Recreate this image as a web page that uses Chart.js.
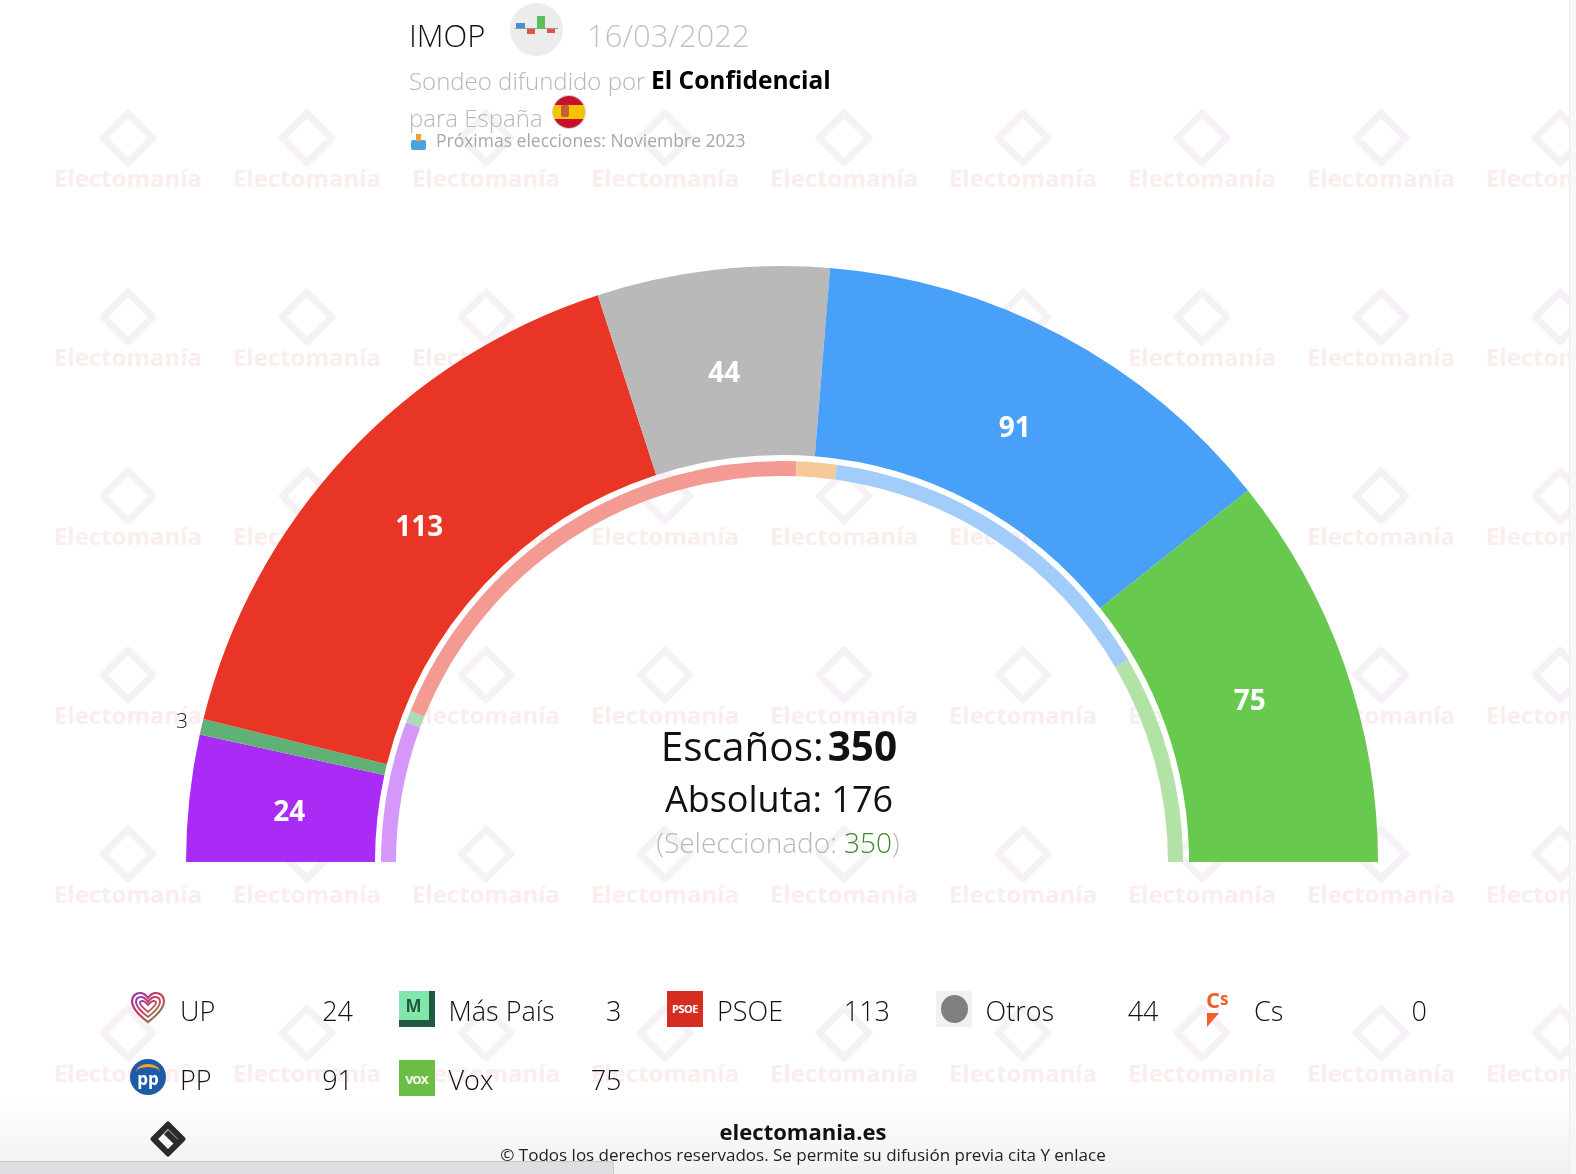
<!DOCTYPE html>
<html lang="es">
<head>
<meta charset="utf-8">
<title>IMOP 16/03/2022 - Electomanía</title>
<script src="https://cdn.jsdelivr.net/npm/chart.js@4/dist/chart.umd.min.js"></script>
<style>
  html, body { margin: 0; padding: 0; background: #fff; }
  body { width: 1576px; height: 1174px; position: relative; overflow: hidden; font-family: "Open Sans", sans-serif; }
  #bottomShade { position: absolute; left: 0; top: 1095px; width: 1576px; height: 79px;
    background: linear-gradient(#ffffff, #f1f1f1); z-index: 0; }
  #wm { position: absolute; left: 0; top: 0; width: 1576px; height: 1174px; z-index: 0; }
  .wmText { position: absolute; font-weight: 700; font-size: 24px; line-height: 1; white-space: nowrap;
    color: #faeeed; transform: translateX(-50%); }
  .wmLogo { position: absolute; width: 28px; height: 28px; border: 7px solid #f6f1f6;
    transform: translate(-50%, -50%) rotate(45deg); border-radius: 3px; }
  #chart { position: absolute; left: 0; top: 0; z-index: 1; }
  .t { position: absolute; line-height: 1; white-space: nowrap; z-index: 2; }
  .icon { position: absolute; z-index: 2; }
  #rightStrip { position: absolute; left: 1569px; top: 0; width: 7px; height: 1174px; background: #f7f7f7;
    border-left: 1px solid #ececec; z-index: 3; }
  #bottomBar { position: absolute; left: 0; top: 1161px; width: 613px; height: 13px; background: #dedfe2;
    border-top: 1px solid #c9c9cc; border-right: 1px solid #c9c9cc; border-top-right-radius: 4px; z-index: 3; }
</style>
</head>
<body>
<div id="bottomShade"></div>
<div id="wm"></div>
<canvas id="chart" width="1576" height="1174"></canvas>
<div id="rightStrip"></div>
<div id="bottomBar"></div>

<script>
// seats in the poll (outer ring), in chart order
const parties = ["UP", "Más País", "PSOE", "Otros", "Cs", "PP", "Vox"];
const seats = [24, 3, 113, 44, 0, 91, 75];
// previous result shown as thin inner ring (Otros not drawn)
const prevSeats = [35, 3, 120, 0, 10, 89, 52];

const colors = ["#a92bf5", "#5fb176", "#e83525", "#b9b9b9", "#f28c3c", "#48a0f8", "#67c94d"];
const lightColors = ["#d597f9", "#acd9b8", "#f39a93", "#dcdcdc", "#f7c998", "#a2cdfa", "#b3e2a6"];

const totalSeats = 350;
const majority = 176;
const selected = 350;

// helper to put text with its baseline at a given y
function txt(html, x, base, size, css, align) {
  const d = document.createElement("div");
  d.className = "t";
  d.innerHTML = html;
  d.style.left = x + "px";
  d.style.top = (base - 0.888 * size) + "px";
  d.style.fontSize = size + "px";
  if (css) d.style.cssText += css;
  if (align === "center") d.style.transform = "translateX(-50%)";
  if (align === "right") d.style.transform = "translateX(-100%)";
  document.body.appendChild(d);
  return d;
}
function box(x, y, w, h, css, html) {
  const d = document.createElement("div");
  d.className = "icon";
  d.style.left = x + "px"; d.style.top = y + "px";
  d.style.width = w + "px"; d.style.height = h + "px";
  d.style.cssText += css || "";
  if (html) d.innerHTML = html;
  document.body.appendChild(d);
  return d;
}

// watermark tiles
const wm = document.getElementById("wm");
for (let r = -1; r < 6; r++) {
  for (let c = 0; c < 9; c++) {
    const cx = 128 + c * 179;
    const base = 366 + r * 179;
    const t = document.createElement("div");
    t.className = "wmText";
    t.textContent = "Electomanía";
    t.style.left = cx + "px";
    t.style.top = (base - 21) + "px";
    wm.appendChild(t);
    const l = document.createElement("div");
    l.className = "wmLogo";
    l.style.left = cx + "px";
    l.style.top = (base - 49) + "px";
    wm.appendChild(l);
  }
}

// header
txt("IMOP", 409, 48, 31, "font-weight:300;color:#111;");
box(510, 3, 53, 53, "border-radius:50%;background:#ececec;");
box(516, 23, 9, 5, "background:#4a8fd6;");
box(515, 28, 43, 1, "background:#9a9a9a;");
box(527, 29, 8, 5, "background:#e0553f;");
box(537, 16, 8, 13, "background:#5cbf5c;");
box(547, 29, 8, 4, "background:#e0553f;");
txt("16/03/2022", 587, 48, 31, "font-weight:300;color:#c2c2c2;");
txt("Sondeo difundido por", 409, 90, 24, "font-weight:300;color:#b8b8b8;");
txt("El Confidencial", 651, 90, 24.5, "font-weight:700;color:#000;");
txt("para España", 409, 127, 24, "font-weight:300;color:#b8b8b8;");
box(553, 96, 32, 32, "border-radius:50%;background:linear-gradient(#c8102e 0 27%, #f5c400 27% 73%, #c8102e 73%);box-shadow:0 0 0 1px #cfcfcf;");
box(561, 105, 8, 12, "background:#b5483a;border-radius:2px;opacity:.8;");
box(411, 140, 15, 10, "background:#4aa3df;border-radius:2px;");
box(416, 134, 5, 7, "background:#f0a030;");
txt("Próximas elecciones: Noviembre 2023", 436, 148, 17.5, "color:#a8a8a8;");

// centre texts
txt("Escaños:&#8202;<b style='font-weight:700'>" + totalSeats + "</b>", 779, 762, 40.5, "color:#111;", "center");
txt("Absoluta: " + majority, 779, 813, 36, "color:#111;", "center");
txt("(Seleccionado: <span style='color:#3b8a26'>" + selected + "</span>)", 778, 853, 28, "font-weight:300;color:#b9b9b9;", "center");

// legend icons
function legendIcon(i, x, y) {
  if (i === 0) {
    box(x, y, 36, 34, "", "<svg width='36' height='34' viewBox='0 0 36 34'><defs><linearGradient id='hg' x1='0' y1='0' x2='1' y2='1'><stop offset='0' stop-color='#8a3bb0'/><stop offset='.5' stop-color='#d6365b'/><stop offset='1' stop-color='#6aa84f'/></linearGradient></defs>" +
      "<path d='M18 31 C6 22 2 16 2 10 C2 5 6 2 10 2 C14 2 16 4 18 7 C20 4 22 2 26 2 C30 2 34 5 34 10 C34 16 30 22 18 31Z' fill='none' stroke='url(#hg)' stroke-width='2.2'/>" +
      "<path d='M18 26 C9 19 6 15 6 11 C6 8 8 6 11 6 C14 6 16 8 18 11 C20 8 22 6 25 6 C28 6 30 8 30 11 C30 15 27 19 18 26Z' fill='none' stroke='url(#hg)' stroke-width='2'/>" +
      "<path d='M18 21 C12 16 10 14 10 12 C10 10.5 11 10 12.5 10 C15 10 16 12 18 14 C20 12 21 10 23.5 10 C25 10 26 10.5 26 12 C26 14 24 16 18 21Z' fill='none' stroke='url(#hg)' stroke-width='1.8'/></svg>");
  } else if (i === 1) {
    box(x, y, 36, 36, "background:#1f5a3e;");
    box(x, y, 30, 29, "background:#82e5ab;font:700 17px 'Open Sans',sans-serif;color:#1f5a3e;text-align:center;line-height:29px;", "M");
  } else if (i === 2) {
    box(x, y, 36, 36, "background:#d62d23;color:#fff;font:700 11px 'Open Sans',sans-serif;text-align:center;line-height:36px;letter-spacing:-0.5px;", "PSOE");
  } else if (i === 3) {
    box(x, y, 36, 36, "background:#f1f1f1;");
    box(x + 5, y + 4, 27, 28, "background:#808080;border-radius:50%;");
  } else if (i === 4) {
    box(x + 2, y - 5, 36, 26, "color:#ef5f2c;font:700 22px 'Open Sans',sans-serif;line-height:26px;", "C<span style='font-size:17px;vertical-align:top'>s</span>");
    box(x + 3, y + 22, 0, 0, "border-left:12px solid #ef5f2c;border-bottom:14px solid transparent;");
  } else if (i === 5) {
    box(x, y - 1, 36, 36, "background:#1d5aa8;border-radius:50%;overflow:hidden;color:#fff;font:700 17px 'Open Sans',sans-serif;text-align:center;line-height:40px;",
      "<div style='position:absolute;left:6px;top:5px;width:24px;height:14px;border-top:3px solid #f5a623;border-radius:50% 50% 0 0;'></div>pp");
  } else if (i === 6) {
    box(x, y, 36, 36, "background:#6cbd45;color:#fff;font:600 15px 'Open Sans',sans-serif;text-align:center;line-height:36px;letter-spacing:-1px;", "vox");
  }
}

// legend grid, 5 per row
for (let i = 0; i < parties.length; i++) {
  const col = i % 5, row = Math.floor(i / 5);
  const x = 130 + col * 268.5;
  const base = 1021 + row * 69;
  legendIcon(i, x, base - 30);
  txt(parties[i], x + 50, base, 27, "font-weight:300;color:#111;");
  txt(String(seats[i]), x + 223, base, 27, "font-weight:300;color:#111;", "right");
}

// footer
box(155, 1126, 26, 26, "border:6px solid #2b2b2b;transform:rotate(45deg);border-radius:2px;box-sizing:border-box;");
box(164, 1134, 14, 6, "background:#2b2b2b;transform:rotate(45deg);");
txt("electomania.es", 803, 1140, 22, "font-weight:700;color:#111;", "center");
txt("© Todos los derechos reservados. Se permite su difusión previa cita Y enlace", 803, 1161, 17, "color:#222;", "center");

// number labels on the outer ring
const segmentLabels = {
  id: "segmentLabels",
  afterDatasetsDraw(chart) {
    const ctx = chart.ctx;
    const meta = chart.getDatasetMeta(0);
    meta.data.forEach((arc, i) => {
      const v = seats[i];
      if (!v) return;
      const p = arc.getProps(["x", "y", "startAngle", "endAngle", "innerRadius", "outerRadius"], true);
      const mid = (p.startAngle + p.endAngle) / 2;
      let r, dy = 0;
      ctx.save();
      if (v >= 10) {
        r = (p.innerRadius + p.outerRadius) / 2 - 6;
        dy = 4;
        ctx.fillStyle = "#ffffff";
        ctx.font = "700 28px 'Open Sans', sans-serif";
      } else {
        r = p.outerRadius + 20;
        ctx.fillStyle = "#222";
        ctx.font = "300 21px 'Open Sans', sans-serif";
      }
      ctx.textAlign = "center";
      ctx.textBaseline = "middle";
      ctx.fillText(String(v), p.x + Math.cos(mid) * r, p.y + Math.sin(mid) * r + dy);
      ctx.restore();
    });
  }
};

const ctx = document.getElementById("chart").getContext("2d");
new Chart(ctx, {
  type: "doughnut",
  data: {
    labels: parties,
    datasets: [
      { data: seats, backgroundColor: colors, borderWidth: 0, weight: 189 },
      { data: [1], backgroundColor: ["rgba(0,0,0,0)"], borderWidth: 0, weight: 6 },
      { data: prevSeats, backgroundColor: lightColors, borderWidth: 0, weight: 15 }
    ]
  },
  options: {
    responsive: false,
    animation: false,
    events: [],
    rotation: -90,
    circumference: 180,
    cutout: "64.77%",
    layout: { padding: { left: 186, right: 198, top: 266, bottom: 312 } },
    plugins: {
      legend: { display: false },
      tooltip: { enabled: false }
    }
  },
  plugins: [segmentLabels]
});
</script>
</body>
</html>
